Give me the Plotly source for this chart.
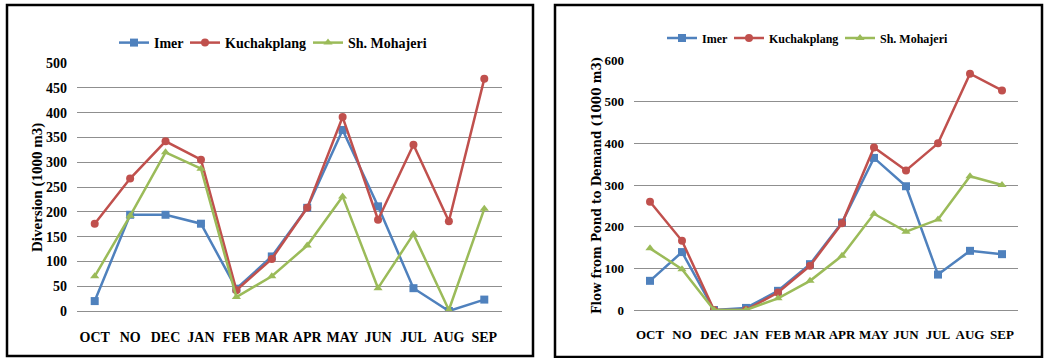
import plotly.graph_objects as go

# Month labels (water year, October to September)
months = ["OCT", "NO", "DEC", "JAN", "FEB", "MAR", "APR", "MAY", "JUN", "JUL", "AUG", "SEP"]

# Diversion (1000 m3)
div_imer = [20, 194, 194, 176, 45, 110, 208, 365, 211, 46, 0, 23]
div_kuchakplang = [176, 267, 342, 305, 42, 105, 208, 391, 184, 335, 181, 468]
div_mohajeri = [70, 192, 320, 287, 28, 70, 132, 231, 46, 155, 2, 206]

# Flow from pond to demand (1000 m3)
flow_imer = [70, 139, 0, 5, 46, 110, 210, 365, 297, 85, 142, 134]
flow_kuchakplang = [260, 166, 0, 0, 42, 106, 208, 390, 335, 400, 567, 527]
flow_mohajeri = [148, 98, 0, 0, 28, 70, 130, 231, 188, 217, 321, 300]

left_ticks = [0, 50, 100, 150, 200, 250, 300, 350, 400, 450, 500]
right_ticks = [0, 100, 200, 300, 400, 500, 600]

W, H = 1044, 358
FONT = "Liberation Serif"
BLUE, RED, GREEN = "#4F81BD", "#C0504D", "#9BBB59"

# name, colour, marker, left values, right values,
# legend entry x position (px) in the left and right panels
series = [
    ("Imer", BLUE, "square", div_imer, flow_imer, 114, 662),
    ("Kuchakplang", RED, "circle", div_kuchakplang, flow_kuchakplang, 185, 729),
    ("Sh. Mohajeri", GREEN, "triangle-up", div_mohajeri, flow_mohajeri, 308, 840),
]


def px_x(p):
    return p / W


def px_y(p):
    return 1 - p / H


def bold(size, family=FONT):
    return dict(size=size, family=family, weight="bold", color="black")


fig = go.Figure()
legends = {}
for i, (name, color, symbol, left_vals, right_vals, lx, rx) in enumerate(series):
    left_leg = "legend" if i == 0 else f"legend{i + 1}"
    right_leg = f"legend{i + 4}"
    fig.add_trace(go.Scatter(
        x=months, y=left_vals, name=name, mode="lines+markers",
        line=dict(color=color, width=2.5),
        marker=dict(symbol=symbol, size=8, color=color),
        xaxis="x", yaxis="y", legend=left_leg,
    ))
    fig.add_trace(go.Scatter(
        x=months, y=right_vals, name=name, mode="lines+markers",
        line=dict(color=color, width=2.5),
        marker=dict(symbol=symbol, size=8, color=color),
        xaxis="x2", yaxis="y2", legend=right_leg,
    ))
    legends[left_leg] = dict(orientation="h", x=px_x(lx), y=px_y(43),
                             xanchor="left", yanchor="middle", font=bold(14),
                             bgcolor="rgba(0,0,0,0)", itemwidth=30)
    legends[right_leg] = dict(orientation="h", x=px_x(rx), y=px_y(38),
                              xanchor="left", yanchor="middle", font=bold(12),
                              bgcolor="rgba(0,0,0,0)", itemwidth=30)

grid = "#8f8f8f"
xcommon = dict(type="category", range=[-0.5, 11.5], showgrid=False,
               showline=True, linecolor=grid, linewidth=1, ticks="",
               zeroline=False, fixedrange=True, automargin=False, tickangle=0)
ycommon = dict(showgrid=True, gridcolor=grid, gridwidth=1, zeroline=False,
               showline=False, ticks="", fixedrange=True, automargin=False)

fig.update_layout(
    width=W, height=H,
    margin=dict(l=0, r=0, t=0, b=0, autoexpand=False),
    paper_bgcolor="white", plot_bgcolor="white",
    font=dict(family=FONT, color="black", weight="bold"),
    xaxis=dict(**xcommon, domain=[px_x(77), px_x(502)], anchor="y",
               tickfont=bold(14), ticklabelstandoff=13),
    yaxis=dict(**ycommon, domain=[px_y(311), px_y(63)], anchor="x",
               range=[0, 500], tickvals=left_ticks,
               tickfont=bold(14), ticklabelstandoff=9),
    xaxis2=dict(**xcommon, domain=[px_x(634), px_x(1018)], anchor="y2",
                tickfont=bold(13), ticklabelstandoff=12),
    yaxis2=dict(**ycommon, domain=[px_y(310), px_y(60)], anchor="x2",
                range=[0, 600], tickvals=right_ticks,
                tickfont=bold(13), ticklabelstandoff=9),
    showlegend=True,
    **legends,
)

# Axis titles drawn as rotated annotations
fig.add_annotation(text="Diversion (1000 m3)", x=px_x(37), y=px_y(188),
                   xref="paper", yref="paper", textangle=-90, showarrow=False,
                   xanchor="center", yanchor="middle", font=bold(15))
fig.add_annotation(text="Flow from Pond to Demand (1000 m3)", x=px_x(597), y=px_y(186),
                   xref="paper", yref="paper", textangle=-90, showarrow=False,
                   xanchor="center", yanchor="middle",
                   font=bold(12, "DejaVu Serif"))

# Panel frames
for x0, x1, y0, y1 in [(7, 533, 5, 356), (555, 1042, 5, 357)]:
    fig.add_shape(type="rect", xref="paper", yref="paper",
                  x0=px_x(x0), x1=px_x(x1), y0=px_y(y1), y1=px_y(y0),
                  line=dict(color="black", width=2.5), fillcolor="rgba(0,0,0,0)")

fig.write_html("out.html", config={"displayModeBar": False})
